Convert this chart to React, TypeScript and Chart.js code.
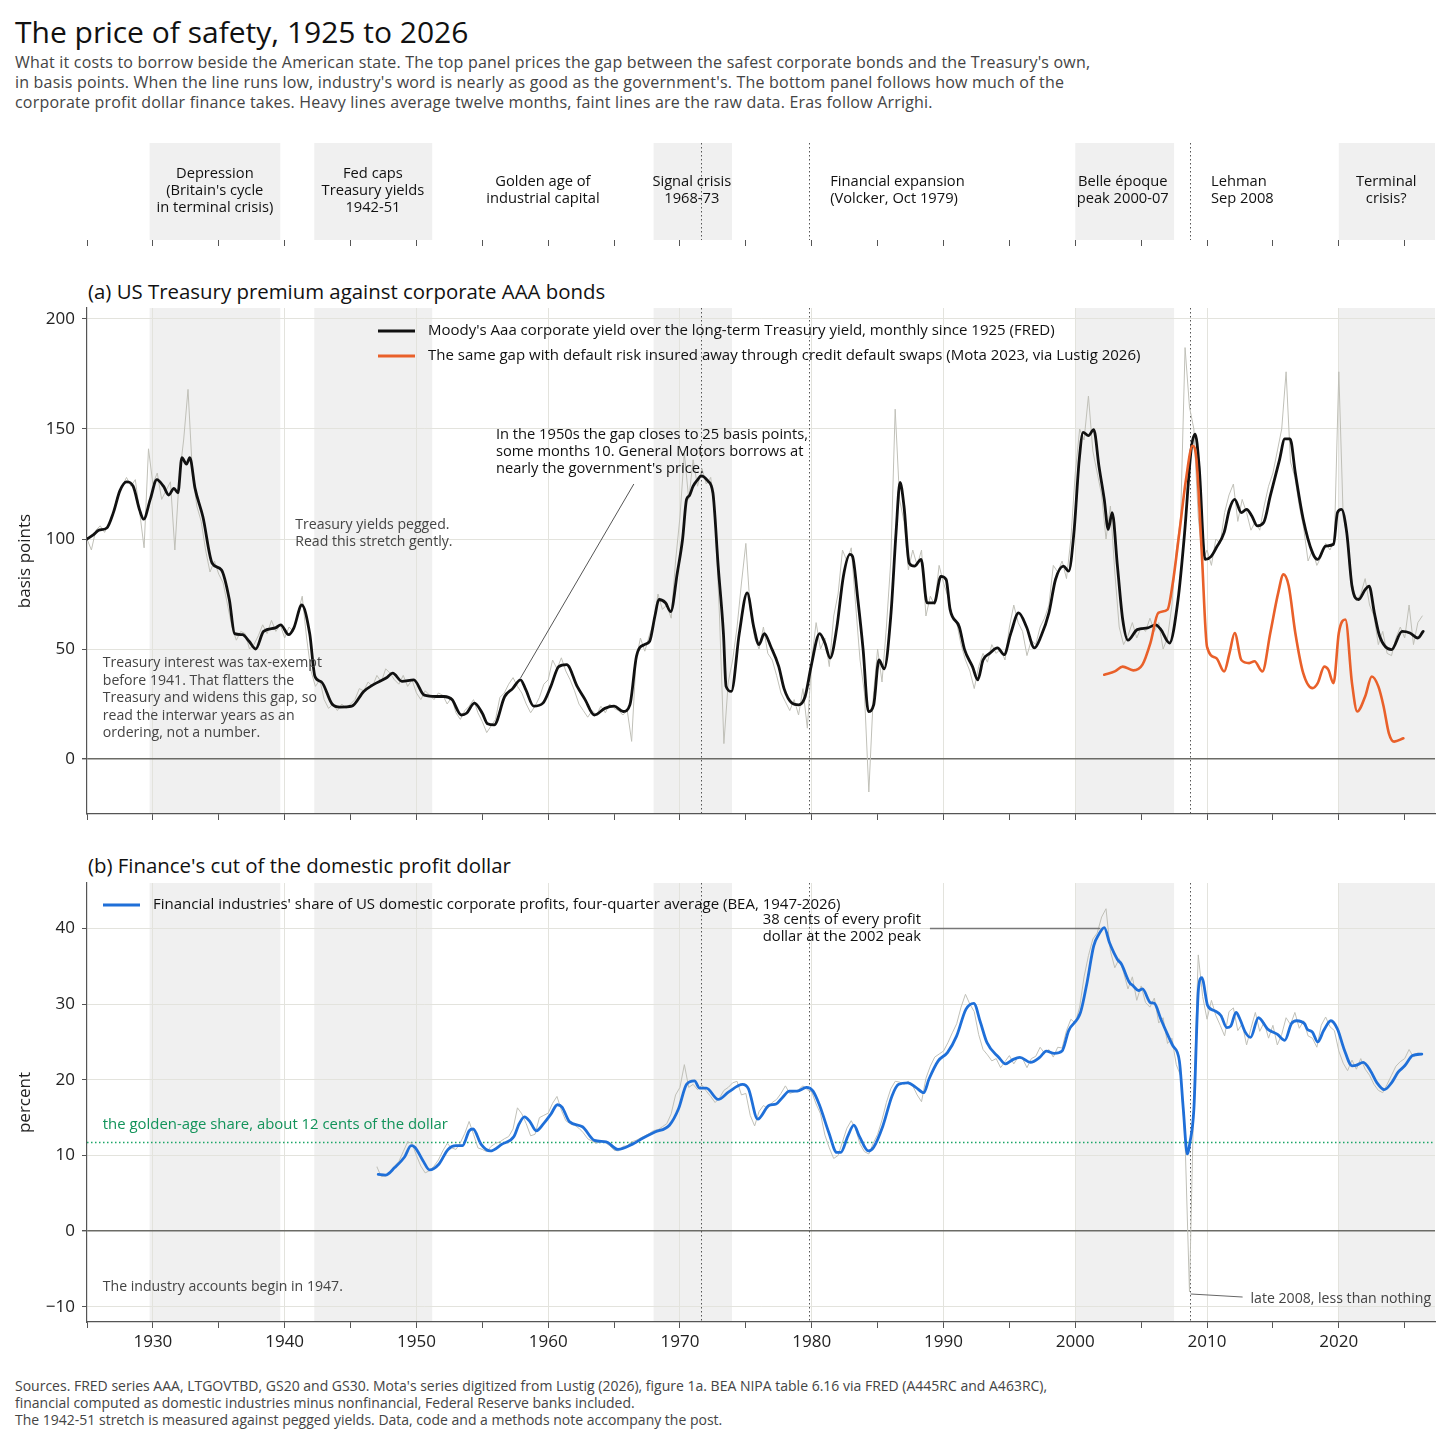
import { useEffect, useRef } from 'react';
import { Chart, registerables } from 'chart.js';

Chart.register(...registerables);

const FONT = '"Open Sans", Lato, sans-serif';
const X_MIN = 1925;
const X_MAX = 2027.3;

const SHADE = '#f0f0f0';
const GRID = '#e3e3dd';
const AXIS = '#555';
const RAW = '#c0c0b8';
const ORANGE = '#e9602a';
const BLUE = '#1f6fd8';
const GREEN = '#12935a';

// ticks
const xTickYears = [1925, 1930, 1935, 1940, 1945, 1950, 1955, 1960, 1965, 1970, 1975, 1980, 1985, 1990, 1995, 2000, 2005, 2010, 2015, 2020, 2025];
const premiumTicks = [0, 50, 100, 150, 200];
const shareTicks = [-10, 0, 10, 20, 30, 40];

// eras (Arrighi) and event markers
const eraStarts = [1929.75, 1942.25, 1968, 2000, 2020];
const eraEnds = [1939.67, 1951.2, 1973.95, 2007.5, 2027.3];
const markerYears = [1971.6, 1979.8, 2008.7];
const eraLabelYears = [1934.7, 1946.7, 1959.6, 1970.9, 1981.4, 2003.6, 2010.3, 2023.6];
const eraLabelLeft = [false, false, false, false, true, false, true, false];
const eraLabelText = [
  ['Depression', "(Britain's cycle", 'in terminal crisis)'],
  ['Fed caps', 'Treasury yields', '1942-51'],
  ['Golden age of', 'industrial capital'],
  ['Signal crisis', '1968-73'],
  ['Financial expansion', '(Volcker, Oct 1979)'],
  ['Belle époque', 'peak 2000-07'],
  ['Lehman', 'Sep 2008'],
  ['Terminal', 'crisis?'],
];

// panel a: Aaa minus long Treasury, twelve-month average (bp)
const aaaYears = [
  1925.0, 1925.5, 1925.9, 1926.5, 1927.0, 1927.5, 1928.0, 1928.5, 1929.0, 1929.3, 1929.8, 1930.3, 1930.8, 1931.2, 1931.6, 1931.9,
  1932.2, 1932.55, 1932.8, 1933.2, 1933.8, 1934.5, 1935.2, 1935.8, 1936.2, 1936.8, 1937.3, 1937.8, 1938.4, 1939.3, 1939.7, 1940.3,
  1940.7, 1941.3, 1941.9, 1942.3, 1942.8, 1943.6, 1944.2, 1945.1, 1946.0, 1946.7, 1947.7, 1948.2, 1948.9, 1949.8, 1950.6, 1951.5,
  1952.1, 1952.7, 1953.4, 1953.8, 1954.4, 1955.0, 1955.4, 1955.9, 1956.7, 1957.3, 1957.9, 1958.3, 1958.9, 1959.6, 1960.2, 1960.8,
  1961.4, 1962.2, 1962.8, 1963.5, 1964.3, 1965.0, 1965.7, 1966.2, 1966.7, 1967.3, 1967.7, 1968.1, 1968.4, 1968.9, 1969.3, 1969.8,
  1970.2, 1970.5, 1970.7, 1971.0, 1971.35, 1971.6, 1972.1, 1972.5, 1972.9, 1973.3, 1973.5, 1973.9, 1974.5, 1975.1, 1975.6, 1976.0,
  1976.4, 1976.9, 1977.5, 1977.9, 1978.5, 1979.0, 1979.5, 1979.95, 1980.6, 1981.0, 1981.4, 1981.9, 1982.4, 1982.9, 1983.1, 1983.5,
  1983.9, 1984.3, 1984.7, 1985.1, 1985.5, 1986.0, 1986.4, 1986.7, 1987.0, 1987.4, 1987.8, 1988.3, 1988.75, 1989.3, 1989.8, 1990.2,
  1990.5, 1991.2, 1991.6, 1992.2, 1992.6, 1993.0, 1993.5, 1994.1, 1994.6, 1995.1, 1995.7, 1996.3, 1996.9, 1997.4, 1998.0, 1998.5,
  1999.1, 1999.5, 1999.9, 2000.3, 2000.6, 2001.0, 2001.4, 2001.8, 2002.2, 2002.5, 2002.8, 2003.2, 2003.6, 2004.0, 2004.7, 2005.5,
  2006.1, 2006.5, 2007.15, 2007.8, 2008.3, 2008.8, 2009.1, 2009.4, 2009.85, 2010.3, 2010.7, 2011.3, 2011.7, 2012.1, 2012.6, 2013.0,
  2013.4, 2013.8, 2014.3, 2014.8, 2015.5, 2015.9, 2016.3, 2016.7, 2017.3, 2018.0, 2018.4, 2019.0, 2019.6, 2019.9, 2020.2, 2020.6,
  2021.0, 2021.5, 2022.0, 2022.3, 2022.7, 2023.1, 2024.0, 2024.8, 2025.4, 2026.0, 2026.4,
];
const aaaSmooth = [
  100, 102, 104, 105, 112, 122, 126, 124, 113, 109, 118, 127, 124, 120, 123, 121,
  137, 134, 137, 123, 110, 89, 86, 72.5, 57, 56.5, 53.5, 50, 58, 59.6, 61, 56.5,
  59.6, 70, 57, 37.5, 35, 25, 23.6, 24, 30.7, 33.7, 36.8, 39, 35.3, 36, 29, 28.4,
  28.4, 27, 20, 20.8, 25.4, 20.8, 16, 15.5, 28.4, 32, 36, 31.5, 24, 25.4, 33, 42,
  42.9, 33, 27, 20, 23, 24, 21.6, 24.6, 46.7, 52, 53.5, 65, 72.5, 71, 67, 84.7,
  100, 118, 119.6, 124, 127, 128.7, 126.5, 121, 87.7, 57, 33, 30.7, 57, 75.5, 60, 52,
  57, 51, 42, 32, 25.4, 24.6, 28.4, 42, 57, 52.7, 45.9, 59.6, 83, 93, 92, 72.5,
  49.7, 21.6, 24.6, 45, 41, 65, 103, 125.7, 115, 89, 87.7, 90.7, 71, 71, 83, 81.6,
  68, 60, 49.7, 42, 36, 45, 48, 50.5, 47.4, 57, 66.4, 60, 50.5, 55.8, 66.4, 81.6,
  87.7, 85.4, 103, 136, 148.5, 147, 149.7, 133, 118, 104.4, 112, 87.7, 63.4, 54, 58.8, 59.6,
  61, 58.8, 52.7, 72.5, 103, 141, 147.7, 133, 90.7, 92, 96, 103, 113.5, 118, 112, 113.5,
  110.5, 106, 107.5, 119.6, 136, 145.5, 145.5, 130, 109, 93.8, 90.7, 96.8, 97.6, 112, 113.5, 103,
  78.6, 72.5, 77, 78.6, 66.4, 55.8, 49.7, 58, 57.3, 55, 58,
];
// raw monthly gap, read every four months from Jan 1925
const aaaRaw = [
  100, 95, 104, 106, 103, 107, 112, 120, 124, 128, 124, 127, 112, 96, 141, 125, 130, 118, 122, 126, 95,
  128, 145, 168, 130, 115, 108, 95, 85, 90, 84, 80, 70, 60, 54, 58, 57, 50, 52, 56, 61, 57, 63, 58, 61,
  55, 60, 58, 66, 74, 55, 40, 33, 36, 27, 23, 25, 22, 25, 23, 25, 27, 32, 31, 35, 33, 38, 35, 41,
  39, 36, 34, 38, 33, 36, 30, 27, 31, 29, 27, 30, 29, 25, 28, 21, 18, 22, 24, 27, 21, 17, 12, 15,
  18, 28, 30, 34, 37, 33, 30, 25, 21, 24, 28, 34, 36, 45, 41, 46, 40, 36, 31, 25, 22, 19, 22, 20,
  24, 21, 25, 23, 22, 20, 22, 8, 45, 55, 49, 56, 62, 75, 68, 70, 64, 90, 110, 139, 118, 136, 124, 132,
  125, 128, 110, 65, 7, 35, 45, 60, 80, 98, 68, 55, 50, 60, 48, 45, 38, 30, 26, 22, 27, 20, 32, 14,
  45, 62, 50, 55, 42, 65, 75, 95, 90, 96, 70, 45, 30, -15, 28, 50, 35, 60, 90, 159, 118, 108, 86, 95,
  88, 95, 65, 74, 70, 88, 80, 74, 65, 62, 52, 45, 40, 32, 42, 48, 44, 52, 48, 50, 45, 60, 70, 62,
  58, 47, 54, 52, 60, 64, 70, 88, 85, 90, 82, 100, 130, 150, 145, 165, 140, 130, 120, 100, 115, 85, 60, 52,
  56, 62, 55, 60, 58, 64, 58, 62, 50, 55, 70, 95, 110, 187, 160, 150, 110, 90, 95, 88, 100, 98, 112, 120,
  125, 108, 118, 112, 104, 108, 104, 115, 124, 130, 140, 150, 176, 135, 128, 115, 105, 90, 95, 88, 92,
  98, 95, 100, 176, 110, 100, 80, 72, 75, 82, 70, 65, 52, 58, 48, 47, 55, 60, 55, 70, 52, 62, 65,
];
// panel a: CDS-insured gap (Mota 2023)
const cdsYears = [
  2002.2, 2003.0, 2003.6, 2004.4, 2005.1, 2005.7, 2006.3, 2007.0, 2007.4, 2007.9, 2008.4, 2008.9, 2009.2, 2009.6, 2010.0,
  2010.7, 2011.3, 2011.7, 2012.1, 2012.6, 2013.2, 2013.6, 2014.2, 2014.8, 2015.4, 2015.8, 2016.2, 2016.7, 2017.3, 2018.0,
  2018.4, 2018.9, 2019.2, 2019.6, 2020.0, 2020.5, 2021.0, 2021.4, 2022.0, 2022.5, 2023.0, 2023.4, 2023.8, 2024.2, 2024.9,
];
const cdsGap = [
  38.3, 39.8, 42, 40.3, 42.9, 52.7, 66.4, 67.9, 80, 103, 127, 142.4, 136, 93.8, 51,
  45.9, 39.8, 48, 57.3, 45, 43.6, 44.4, 39.8, 57.3, 75.5, 83.9, 78.6, 57.3, 39, 32.2,
  34.5, 42, 40.6, 34.5, 57.3, 63.4, 34.5, 21.6, 28.4, 37.5, 33, 23.9, 11.7, 7.9, 9.4,
];

// panel b: financial share of domestic corporate profits, four-quarter average (%)
const shareYears = [
  1947.1, 1947.65, 1948.35, 1949.1, 1949.6, 1949.9, 1950.5, 1951.0, 1951.7, 1952.4, 1953.0, 1953.5, 1954.0, 1954.3, 1954.9,
  1955.6, 1956.5, 1957.4, 1957.8, 1958.2, 1958.6, 1959.1, 1959.65, 1960.2, 1960.7, 1961.05, 1961.6, 1962.6, 1963.5, 1964.4,
  1965.3, 1966.4, 1967.2, 1968.1, 1969.2, 1969.9, 1970.5, 1971.1, 1971.5, 1972.0, 1972.9, 1973.7, 1974.75, 1975.2, 1975.9,
  1976.75, 1977.3, 1977.8, 1978.3, 1978.9, 1979.6, 1980.1, 1980.6, 1981.3, 1981.9, 1982.2, 1982.75, 1983.2, 1983.6, 1984.3,
  1984.7, 1985.4, 1986.1, 1986.6, 1987.3, 1987.9, 1988.5, 1988.9, 1989.6, 1990.3, 1991.0, 1991.7, 1992.3, 1992.8, 1993.3,
  1994.2, 1994.7, 1995.3, 1995.8, 1996.6, 1997.3, 1997.8, 1998.4, 1999.0, 1999.5, 2000.4, 2000.9, 2001.4, 2001.8, 2002.2,
  2002.6, 2003.2, 2003.5, 2004.1, 2004.4, 2004.8, 2005.1, 2005.7, 2006.0, 2006.5, 2007.0, 2007.4, 2007.9, 2008.2, 2008.5,
  2008.7, 2009.0, 2009.35, 2009.6, 2010.05, 2010.6, 2011.05, 2011.5, 2011.8, 2012.2, 2012.5, 2012.9, 2013.3, 2013.9, 2014.6,
  2015.35, 2015.9, 2016.4, 2016.8, 2017.4, 2017.6, 2018.0, 2018.4, 2018.85, 2019.4, 2019.9, 2020.4, 2021.0, 2021.3, 2021.85,
  2022.4, 2022.9, 2023.45, 2024.0, 2024.5, 2025.0, 2025.6, 2026.3,
];
const shareSmooth = [
  7.5, 7.4, 8.4, 9.8, 11.3, 11.05, 9.3, 8.1, 8.85, 10.8, 11.3, 11.3, 13.25, 13.5, 11.5,
  10.6, 11.5, 12.5, 14.2, 15.1, 14.5, 13.25, 14.2, 15.45, 16.7, 16.4, 14.5, 13.8, 12.0, 11.8,
  10.8, 11.5, 12.3, 13.1, 14.0, 16.2, 19.4, 19.85, 18.9, 18.9, 17.4, 18.4, 19.4, 18.8, 14.8,
  16.6, 16.8, 17.7, 18.5, 18.5, 19.0, 18.5, 16.6, 13.0, 10.4, 10.4, 12.6, 14.0, 12.6, 10.6,
  11.1, 13.9, 17.9, 19.4, 19.6, 19.0, 18.3, 20.1, 22.5, 23.6, 25.8, 29.3, 30.1, 27.6, 24.9,
  22.95, 22.1, 22.7, 22.95, 22.3, 22.95, 23.8, 23.5, 23.8, 26.5, 28.9, 32.9, 37.7, 39.25, 40.1,
  38.1, 35.9, 35.3, 32.9, 32.4, 31.8, 32.0, 30.2, 30.1, 28.0, 26.0, 24.5, 22.5, 16.1, 10.2,
  11.7, 16.1, 32.0, 33.5, 29.8, 29.1, 28.5, 26.9, 27.1, 28.9, 28.0, 26.3, 25.6, 28.2, 26.7,
  26.0, 25.2, 27.4, 27.8, 27.4, 26.7, 26.3, 25.0, 26.5, 27.8, 26.7, 24.05, 21.85, 21.9, 22.3,
  21.2, 19.6, 18.7, 19.6, 21.0, 21.85, 23.2, 23.4,
];
// raw quarterly share, read every four months from Q1 1947
const shareRaw = [
  8.5, 7.2, 7.3, 7.8, 8.6, 9.2, 10.5, 11.8, 11.6, 10.0, 8.6, 7.7, 8.0, 8.6, 9.4, 10.6, 11.6, 11.0,
  10.8, 11.7, 12.9, 14.5, 12.8, 11.0, 10.8, 10.5, 11.2, 11.6, 11.8, 12.2, 12.5, 13.5, 16.3, 15.5, 14.2, 12.6,
  12.8, 15.0, 15.3, 15.6, 16.9, 17.8, 16.0, 14.6, 14.2, 14.0, 13.6, 13.0, 12.2, 11.9, 11.6, 11.9, 11.7, 11.3,
  10.7, 10.6, 11.2, 11.3, 11.8, 12.0, 12.3, 12.6, 12.9, 13.3, 13.4, 13.8, 14.2, 15.5, 18.0, 19.0, 22.0, 19.0,
  19.4, 18.7, 19.3, 18.5, 17.8, 17.0, 17.6, 18.6, 19.0, 19.6, 19.8, 18.0, 18.2, 15.3, 13.9, 15.8, 16.6, 16.2,
  17.0, 17.4, 18.2, 19.2, 18.2, 18.4, 18.7, 19.2, 18.7, 18.4, 16.8, 15.5, 12.7, 11.0, 9.6, 10.0, 11.8, 13.6,
  14.6, 13.5, 11.5, 10.5, 10.2, 11.6, 12.8, 14.7, 17.0, 18.8, 19.8, 19.7, 19.4, 19.8, 19.2, 18.0, 17.1, 20.2,
  21.8, 23.0, 23.4, 23.8, 24.9, 26.2, 27.4, 29.6, 31.3, 30.0, 29.0, 26.0, 24.0, 23.3, 22.5, 22.8, 21.6, 22.4,
  23.2, 22.1, 23.0, 22.8, 21.6, 22.8, 23.1, 24.3, 23.5, 24.0, 23.0, 24.3, 24.2, 26.5, 28.0, 27.5, 29.6, 33.6,
  36.4, 38.6, 39.4, 41.5, 42.6, 37.0, 34.8, 36.0, 34.2, 32.0, 33.6, 30.5, 32.4, 30.2, 29.6, 30.8, 27.5, 28.2,
  24.8, 25.5, 22.0, 20.5, 12.0, -8.0, 18.0, 36.5, 31.0, 28.0, 30.5, 28.5, 27.2, 25.8, 29.0, 29.5, 26.5, 27.4,
  24.6, 26.8, 28.9, 26.4, 27.6, 25.5, 27.2, 24.6, 26.0, 28.2, 27.3, 28.9, 26.8, 27.8, 25.8, 25.5, 24.3, 27.2,
  28.3, 27.0, 26.5, 23.8, 22.2, 21.2, 22.6, 21.4, 22.8, 21.4, 20.6, 19.4, 18.6, 18.3, 19.4, 20.6, 21.8, 22.4,
  22.8, 24.0, 23.0, 23.6,
];
const goldenAgeShare = 11.8;

const pairs = (xs: number[], ys: number[]) => xs.map((x, i) => ({ x, y: ys[i] }));
const everyFourMonths = (start: number, ys: number[]) => ys.map((y, i) => ({ x: start + i / 3, y }));

type Ctx = CanvasRenderingContext2D;

function drawLines(ctx: Ctx, lines: string[], x: number, y: number, lh: number, align: CanvasTextAlign = 'left') {
  ctx.textAlign = align;
  ctx.textBaseline = 'middle';
  lines.forEach((l, i) => ctx.fillText(l, x, y + i * lh));
}

function shadeEras(chart: Chart) {
  const { ctx, chartArea: a, scales } = chart;
  const x = scales.x;
  ctx.save();
  ctx.fillStyle = SHADE;
  eraStarts.forEach((s, i) => {
    const x0 = Math.max(a.left, x.getPixelForValue(s));
    const x1 = Math.min(a.right, x.getPixelForValue(eraEnds[i]));
    ctx.fillRect(x0, a.top, x1 - x0, a.bottom - a.top);
  });
  ctx.restore();
}

function markEvents(chart: Chart) {
  const { ctx, chartArea: a, scales } = chart;
  ctx.save();
  ctx.strokeStyle = '#555';
  ctx.lineWidth = 1;
  ctx.setLineDash([1.5, 2.5]);
  markerYears.forEach((yr) => {
    const px = Math.round(scales.x.getPixelForValue(yr)) + 0.5;
    ctx.beginPath();
    ctx.moveTo(px, a.top);
    ctx.lineTo(px, a.bottom);
    ctx.stroke();
  });
  ctx.restore();
}

function legendRow(ctx: Ctx, x: number, y: number, color: string, text: string) {
  ctx.save();
  ctx.strokeStyle = color;
  ctx.lineWidth = 3;
  ctx.beginPath();
  ctx.moveTo(x, y);
  ctx.lineTo(x + 37, y);
  ctx.stroke();
  ctx.fillStyle = '#111';
  ctx.font = `15px ${FONT}`;
  ctx.textAlign = 'left';
  ctx.textBaseline = 'middle';
  ctx.fillText(text, x + 50, y);
  ctx.restore();
}

function leader(chart: Chart, x0: number, y0: number, x1: number, y1: number, color: string, width: number) {
  const { ctx, scales } = chart;
  ctx.save();
  ctx.strokeStyle = color;
  ctx.lineWidth = width;
  ctx.beginPath();
  ctx.moveTo(scales.x.getPixelForValue(x0), scales.y.getPixelForValue(y0));
  ctx.lineTo(scales.x.getPixelForValue(x1), scales.y.getPixelForValue(y1));
  ctx.stroke();
  ctx.restore();
}

function note(chart: Chart, year: number, value: number, lines: string[], color: string, size: number, align: CanvasTextAlign = 'left', lh = 17) {
  const { ctx, scales } = chart;
  ctx.save();
  ctx.fillStyle = color;
  ctx.font = `${size}px ${FONT}`;
  drawLines(ctx, lines, scales.x.getPixelForValue(year), scales.y.getPixelForValue(value), lh, align);
  ctx.restore();
}

function xAxis(showLabels: boolean, height: number, onArea: boolean) {
  return {
    type: 'linear' as const,
    min: X_MIN,
    max: X_MAX,
    afterBuildTicks: (s: any) => {
      s.ticks = xTickYears.map((v) => ({ value: v }));
    },
    afterFit: (s: any) => {
      s.height = height;
      s.paddingLeft = 0;
      s.paddingRight = 0;
    },
    ticks: {
      display: showLabels,
      autoSkip: false,
      maxRotation: 0,
      padding: 4,
      color: '#222',
      font: { family: FONT, size: 17 },
      callback: (v: any) => (Number(v) % 10 === 0 ? String(v) : ''),
    },
    grid: {
      drawOnChartArea: onArea,
      color: (c: any) => (c.tick && c.tick.value % 10 === 0 && c.tick.value > X_MIN ? GRID : 'rgba(0,0,0,0)'),
      tickColor: AXIS,
      tickLength: 6,
    },
    border: { display: onArea, color: AXIS, width: 1.2 },
  };
}

function yAxis(min: number, max: number, ticks: number[], title: string) {
  return {
    type: 'linear' as const,
    min,
    max,
    afterBuildTicks: (s: any) => {
      s.ticks = ticks.map((v) => ({ value: v }));
    },
    afterFit: (s: any) => {
      s.width = 87;
      s.paddingTop = 0;
      s.paddingBottom = 0;
    },
    ticks: {
      color: '#222',
      padding: 7,
      font: { family: FONT, size: 17 },
      callback: (v: any) => String(v).replace('-', '\u2212'),
    },
    grid: {
      color: (c: any) => (c.tick && c.tick.value === 0 ? '#6b6b66' : GRID),
      lineWidth: (c: any) => (c.tick && c.tick.value === 0 ? 1.4 : 1),
      tickColor: AXIS,
      tickLength: 5,
    },
    border: { color: AXIS, width: 1.2 },
    title: {
      display: true,
      text: title,
      color: '#222',
      font: { family: FONT, size: 17 },
      padding: { top: 15, bottom: 0 },
    },
  };
}

const baseOptions = {
  animation: false as const,
  responsive: false,
  maintainAspectRatio: false,
  elements: {
    point: { radius: 0 },
    line: { cubicInterpolationMode: 'monotone' as const, borderJoinStyle: 'round' as const, borderCapStyle: 'round' as const },
  },
  plugins: { legend: { display: false }, tooltip: { enabled: false }, title: { display: false } },
};

export default function App() {
  const eraRef = useRef<HTMLCanvasElement>(null);
  const premiumRef = useRef<HTMLCanvasElement>(null);
  const shareRef = useRef<HTMLCanvasElement>(null);

  useEffect(() => {
    document.body.style.margin = '0';
    document.body.style.background = '#fff';
    if (!eraRef.current || !premiumRef.current || !shareRef.current) return;

    const eraChart = new Chart(eraRef.current, {
      type: 'line',
      data: { datasets: [] },
      options: {
        ...baseOptions,
        layout: { padding: { left: 87, right: 21, top: 0, bottom: 0 } },
        scales: {
          x: xAxis(false, 13, false),
          y: { type: 'linear', min: 0, max: 1, display: false },
        },
      },
      plugins: [
        {
          id: 'eras',
          beforeDraw: (chart: Chart) => shadeEras(chart),
          beforeDatasetsDraw: (chart: Chart) => markEvents(chart),
          afterDraw: (chart: Chart) => {
            const { ctx, chartArea: a, scales } = chart;
            ctx.save();
            ctx.fillStyle = '#111';
            ctx.font = `14.7px ${FONT}`;
            const mid = (a.top + a.bottom) / 2 - 1;
            eraLabelText.forEach((lines, i) => {
              const lh = 17;
              const y0 = mid - ((lines.length - 1) * lh) / 2;
              drawLines(ctx, lines, scales.x.getPixelForValue(eraLabelYears[i]), y0, lh, eraLabelLeft[i] ? 'left' : 'center');
            });
            ctx.restore();
          },
        },
      ],
    } as any);

    const premiumChart = new Chart(premiumRef.current, {
      type: 'line',
      data: {
        datasets: [
          { label: 'cds', data: pairs(cdsYears, cdsGap), borderColor: ORANGE, borderWidth: 2.6, order: 0 },
          { label: 'aaa', data: pairs(aaaYears, aaaSmooth), borderColor: '#111', borderWidth: 2.8, order: 1 },
          {
            label: 'raw',
            data: everyFourMonths(1925, aaaRaw),
            borderColor: RAW,
            borderWidth: 1,
            cubicInterpolationMode: 'default',
            tension: 0,
            order: 2,
          },
        ],
      },
      options: {
        ...baseOptions,
        layout: { padding: { left: 0, right: 21, top: 8, bottom: 0 } },
        scales: {
          x: xAxis(false, 10, true),
          y: yAxis(-25, 205, premiumTicks, 'basis points'),
        },
      },
      plugins: [
        {
          id: 'premiumNotes',
          beforeDraw: (chart: Chart) => shadeEras(chart),
          beforeDatasetsDraw: (chart: Chart) => markEvents(chart),
          afterDatasetsDraw: (chart: Chart) => {
            const { ctx, chartArea: a } = chart;
            legendRow(ctx, a.left + 291, a.top + 23, '#111', "Moody's Aaa corporate yield over the long-term Treasury yield, monthly since 1925 (FRED)");
            legendRow(ctx, a.left + 291, a.top + 48, ORANGE, 'The same gap with default risk insured away through credit default swaps (Mota 2023, via Lustig 2026)');
            leader(chart, 1966.5, 125, 1957.9, 36.8, '#555', 1);
            note(chart, 1956.03, 147.3, [
              'In the 1950s the gap closes to 25 basis points,',
              'some months 10. General Motors borrows at',
              "nearly the government's price.",
            ], '#111', 14.7);
            note(chart, 1940.8, 106.4, ['Treasury yields pegged.', 'Read this stretch gently.'], '#444', 14.1);
            note(chart, 1926.2, 43.6, [
              'Treasury interest was tax-exempt',
              'before 1941. That flatters the',
              'Treasury and widens this gap, so',
              'read the interwar years as an',
              'ordering, not a number.',
            ], '#444', 14.1, 'left', 17.5);
          },
        },
      ],
    } as any);

    const shareChart = new Chart(shareRef.current, {
      type: 'line',
      data: {
        datasets: [
          { label: 'share', data: pairs(shareYears, shareSmooth), borderColor: BLUE, borderWidth: 2.8, order: 0 },
          {
            label: 'raw',
            data: everyFourMonths(1947, shareRaw),
            borderColor: RAW,
            borderWidth: 1,
            cubicInterpolationMode: 'default',
            tension: 0,
            order: 1,
          },
        ],
      },
      options: {
        ...baseOptions,
        layout: { padding: { left: 0, right: 21, top: 8, bottom: 0 } },
        scales: {
          x: xAxis(true, 36, true),
          y: yAxis(-12, 46, shareTicks, 'percent'),
        },
      },
      plugins: [
        {
          id: 'shareNotes',
          beforeDraw: (chart: Chart) => shadeEras(chart),
          beforeDatasetsDraw: (chart: Chart) => {
            markEvents(chart);
            const { ctx, chartArea: a, scales } = chart;
            const gy = Math.round(scales.y.getPixelForValue(goldenAgeShare)) + 0.5;
            ctx.save();
            ctx.strokeStyle = '#1aa566';
            ctx.lineWidth = 1.3;
            ctx.setLineDash([1.5, 2.5]);
            ctx.beginPath();
            ctx.moveTo(a.left, gy);
            ctx.lineTo(a.right, gy);
            ctx.stroke();
            ctx.restore();
          },
          afterDatasetsDraw: (chart: Chart) => {
            const { ctx, chartArea: a } = chart;
            legendRow(ctx, a.left + 16, a.top + 22, BLUE, "Financial industries' share of US domestic corporate profits, four-quarter average (BEA, 1947-2026)");
            note(chart, 1926.2, 14.0, ['the golden-age share, about 12 cents of the dollar'], GREEN, 14.9);
            leader(chart, 1988.97, 40.0, 2001.9, 40.0, '#777', 1.5);
            note(chart, 1988.3, 41.2, ['38 cents of every profit', 'dollar at the 2002 peak'], '#111', 14.8, 'right');
            note(chart, 1926.2, -7.4, ['The industry accounts begin in 1947.'], '#444', 14.1);
            leader(chart, 2008.75, -8.3, 2012.7, -8.7, '#666', 1);
            note(chart, 2013.3, -9.0, ['late 2008, less than nothing'], '#444', 14.1);
          },
        },
      ],
    } as any);

    return () => {
      eraChart.destroy();
      premiumChart.destroy();
      shareChart.destroy();
    };
  }, []);

  const abs = (left: number, top: number) => ({ position: 'absolute' as const, left, top, whiteSpace: 'nowrap' as const });

  return (
    <div style={{ position: 'relative', width: 1456, height: 1430, background: '#fff', fontFamily: FONT, color: '#111', overflow: 'hidden' }}>
      <div style={{ ...abs(15, 13), fontSize: 30, lineHeight: '38px' }}>The price of safety, 1925 to 2026</div>
      <div style={{ ...abs(15, 52), fontSize: 16, letterSpacing: '0.2px', lineHeight: '20px', color: '#444' }}>
        What it costs to borrow beside the American state. The top panel prices the gap between the safest corporate bonds and the Treasury's own,
        <br />
        in basis points. When the line runs low, industry's word is nearly as good as the government's. The bottom panel follows how much of the
        <br />
        corporate profit dollar finance takes. Heavy lines average twelve months, faint lines are the raw data. Eras follow Arrighi.
      </div>

      <div style={{ ...abs(0, 143), width: 1456, height: 110 }}>
        <canvas ref={eraRef} width={1456} height={110} style={{ display: 'block' }} />
      </div>

      <div style={{ ...abs(88, 278), fontSize: 20.4, lineHeight: '26px' }}>(a) US Treasury premium against corporate AAA bonds</div>
      <div style={{ ...abs(0, 300), width: 1456, height: 524 }}>
        <canvas ref={premiumRef} width={1456} height={524} style={{ display: 'block' }} />
      </div>

      <div style={{ ...abs(88, 852), fontSize: 20.4, lineHeight: '26px' }}>(b) Finance's cut of the domestic profit dollar</div>
      <div style={{ ...abs(0, 875), width: 1456, height: 483 }}>
        <canvas ref={shareRef} width={1456} height={483} style={{ display: 'block' }} />
      </div>

      <div style={{ ...abs(15, 1377), fontSize: 14, lineHeight: '17px', color: '#444' }}>
        Sources. FRED series AAA, LTGOVTBD, GS20 and GS30. Mota's series digitized from Lustig (2026), figure 1a. BEA NIPA table 6.16 via FRED (A445RC and A463RC),
        <br />
        financial computed as domestic industries minus nonfinancial, Federal Reserve banks included.
        <br />
        The 1942-51 stretch is measured against pegged yields. Data, code and a methods note accompany the post.
      </div>
    </div>
  );
}
